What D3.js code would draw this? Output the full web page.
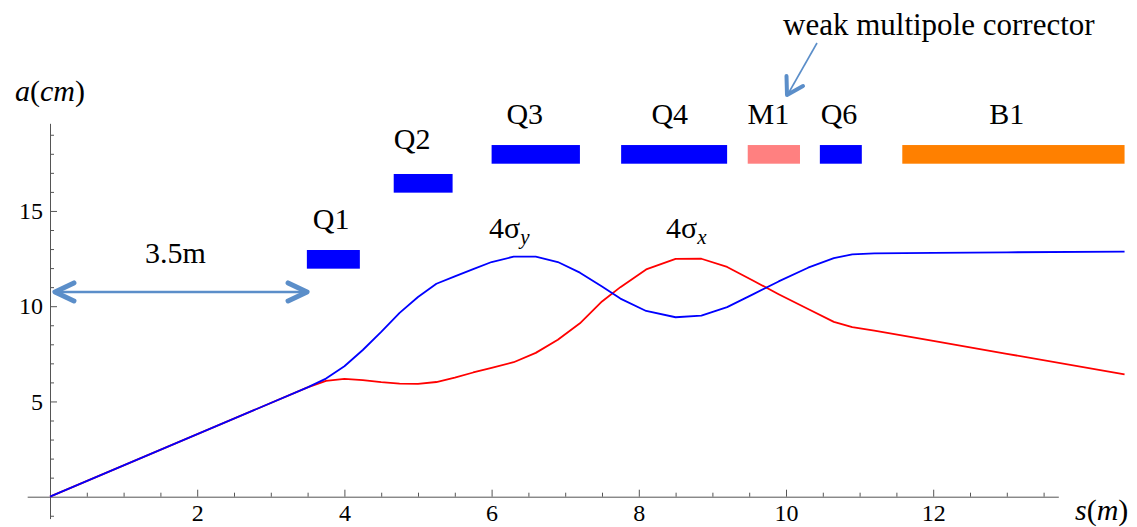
<!DOCTYPE html>
<html>
<head>
<meta charset="utf-8">
<script src="https://cdn.jsdelivr.net/npm/d3@7/dist/d3.min.js"></script>
<style>
  html, body { margin: 0; padding: 0; background: #fff; }
</style>
</head>
<body>
<svg id="chart" width="1137" height="527"></svg>
<script>
// ---- data ----
const sPos = [0, 3.5, 3.75, 4.0, 4.25, 4.5, 4.75, 5.0, 5.25, 5.5, 5.75, 6.0, 6.3, 6.6, 6.9, 7.2, 7.5, 7.75, 8.1, 8.5, 8.85, 9.2, 9.55, 9.9, 10.3, 10.65, 10.9, 11.2, 12, 13, 14.6];
const sigmaY4 = [0, 5.74, 6.2, 6.85, 7.7, 8.65, 9.65, 10.48, 11.18, 11.57, 11.95, 12.32, 12.6, 12.6, 12.32, 11.76, 11.03, 10.4, 9.75, 9.42, 9.5, 9.95, 10.62, 11.3, 12.02, 12.52, 12.72, 12.77, 12.8, 12.83, 12.86];
const sigmaX4 = [0, 5.74, 6.08, 6.18, 6.12, 6.01, 5.94, 5.92, 6.02, 6.25, 6.52, 6.76, 7.06, 7.55, 8.24, 9.1, 10.25, 11.0, 11.93, 12.48, 12.49, 12.06, 11.35, 10.63, 9.85, 9.18, 8.9, 8.72, 8.18, 7.5, 6.42];

const elemNames = ["Q1", "Q2", "Q3", "Q4", "M1", "Q6", "B1"];
const elemStart = [3.49, 4.67, 6.0, 7.76, 9.48, 10.46, 11.58];
const elemEnd   = [4.21, 5.47, 7.2, 9.2, 10.19, 11.03, 14.6];
const elemLow   = [11.97, 15.96, 17.48, 17.48, 17.48, 17.48, 17.48];
const elemHigh  = [12.95, 16.94, 18.46, 18.46, 18.46, 18.46, 18.46];
const elemColor = ["#0000ff", "#0000ff", "#0000ff", "#0000ff", "#ff8080", "#0000ff", "#ff8000"];
const elemLabelS = [3.82, 4.92, 6.45, 8.42, 9.76, 10.72, 13.0];
const elemLabelV = [14.05, 18.25, 19.56, 19.56, 19.56, 19.56, 19.56];

const xMajorTicks = [2, 4, 6, 8, 10, 12];
const xMinorTicks = [0.5, 1, 1.5, 2.5, 3, 3.5, 4.5, 5, 5.5, 6.5, 7, 7.5, 8.5, 9, 9.5, 10.5, 11, 11.5, 12.5, 13, 13.5];
const yMajorTicks = [5, 10, 15];
const yMinorTicks = [-1, 1, 2, 3, 4, 6, 7, 8, 9, 11, 12, 13, 14, 16, 17, 18, 19];

const FONT = "Liberation Serif";

// ---- scales ----
const x = d3.scaleLinear().domain([0, 14.6]).range([50, 50 + 73.6 * 14.6]);
const y = d3.scaleLinear().domain([0, 19.6]).range([496.7, 496.7 - 19.05 * 19.6]);

const svg = d3.select("#chart");
svg.append("rect").attr("width", 1137).attr("height", 527).attr("fill", "#fff");

const axisColor = "#555";

// x axis
const xAxisScale = d3.scaleLinear().domain([-0.31, 13.7]).range([x(-0.31), x(13.7)]);
const gx = svg.append("g").attr("transform", `translate(0,${y(0)})`);
gx.call(d3.axisBottom(xAxisScale).tickValues(xMajorTicks).tickSizeInner(-7).tickSizeOuter(0).tickPadding(7).tickFormat(d3.format("d")));
const gxm = svg.append("g").attr("transform", `translate(0,${y(0)})`);
gxm.call(d3.axisBottom(xAxisScale).tickValues(xMinorTicks).tickSizeInner(-4).tickSizeOuter(0).tickFormat(""));
gxm.select(".domain").remove();

// y axis
const yAxisScale = d3.scaleLinear().domain([-1.15, 19.6]).range([y(-1.15), y(19.6)]);
const gy = svg.append("g").attr("transform", `translate(${x(0)},0)`);
gy.call(d3.axisLeft(yAxisScale).tickValues(yMajorTicks).tickSizeInner(-7).tickSizeOuter(0).tickPadding(7).tickFormat(d3.format("d")));
const gym = svg.append("g").attr("transform", `translate(${x(0)},0)`);
gym.call(d3.axisLeft(yAxisScale).tickValues(yMinorTicks).tickSizeInner(-4).tickSizeOuter(0).tickFormat(""));
gym.select(".domain").remove();

svg.selectAll("g").attr("font-family", FONT);
svg.selectAll(".domain, .tick line").attr("stroke", axisColor).attr("stroke-width", 1);
svg.selectAll(".tick text").attr("fill", "#000").attr("font-size", 24).attr("font-family", FONT);

// axis labels
const aLab = svg.append("text").attr("x", 15).attr("y", 101).attr("font-family", FONT).attr("font-size", 30);
aLab.append("tspan").attr("font-style", "italic").text("a");
aLab.append("tspan").text("(");
aLab.append("tspan").attr("font-style", "italic").text("cm");
aLab.append("tspan").text(")");

const sLab = svg.append("text").attr("x", 1075).attr("y", 520).attr("font-family", FONT).attr("font-size", 30);
sLab.append("tspan").attr("font-style", "italic").text("s");
sLab.append("tspan").text("(");
sLab.append("tspan").attr("font-style", "italic").text("m");
sLab.append("tspan").text(")");

// element bars
const elems = elemNames.map((n, i) => ({ n, s0: elemStart[i], s1: elemEnd[i], lo: elemLow[i], hi: elemHigh[i], c: elemColor[i], ls: elemLabelS[i], lv: elemLabelV[i] }));
svg.append("g").selectAll("rect").data(elems).join("rect")
  .attr("x", d => x(d.s0)).attr("width", d => x(d.s1) - x(d.s0))
  .attr("y", d => y(d.hi)).attr("height", d => y(d.lo) - y(d.hi))
  .attr("fill", d => d.c);
svg.append("g").selectAll("text").data(elems).join("text")
  .attr("x", d => x(d.ls)).attr("y", d => y(d.lv))
  .attr("text-anchor", "middle").attr("font-family", FONT).attr("font-size", 30).text(d => d.n);

// curves
const line = d3.line().x(d => x(d[0])).y(d => y(d[1]));
svg.append("path").datum(sPos.map((s, i) => [s, sigmaX4[i]]))
  .attr("d", line).attr("fill", "none").attr("stroke", "#ff0000").attr("stroke-width", 1.8).attr("stroke-linejoin", "round");
svg.append("path").datum(sPos.map((s, i) => [s, sigmaY4[i]]))
  .attr("d", line).attr("fill", "none").attr("stroke", "#0000ff").attr("stroke-width", 1.8).attr("stroke-linejoin", "round");

// curve labels
function sigmaLabel(px, py, sub) {
  const t = svg.append("text").attr("x", px).attr("y", py).attr("font-family", FONT).attr("font-size", 30);
  t.append("tspan").text("4σ");
  t.append("tspan").attr("dy", 6).attr("font-size", 21).attr("font-style", "italic").text(sub);
}
sigmaLabel(489, 238, "y");
sigmaLabel(666, 238, "x");

// 3.5m annotation arrow
const arrowColor = "#5b8ec9";
const ay = y(10.75);
const ax0 = x(0.04), ax1 = x(3.52);
svg.append("line").attr("x1", ax0 + 3).attr("x2", ax1 - 3).attr("y1", ay).attr("y2", ay)
  .attr("stroke", arrowColor).attr("stroke-width", 2.5);
svg.append("path").attr("d", `M${ax0 + 21},${ay - 9} L${ax0 + 2},${ay} L${ax0 + 21},${ay + 9}`)
  .attr("fill", "none").attr("stroke", arrowColor).attr("stroke-width", 5).attr("stroke-linecap", "round").attr("stroke-linejoin", "round");
svg.append("path").attr("d", `M${ax1 - 21},${ay - 9} L${ax1 - 2},${ay} L${ax1 - 21},${ay + 9}`)
  .attr("fill", "none").attr("stroke", arrowColor).attr("stroke-width", 5).attr("stroke-linecap", "round").attr("stroke-linejoin", "round");
svg.append("text").attr("x", x(1.705)).attr("y", y(12.28)).attr("text-anchor", "middle").attr("font-family", FONT).attr("font-size", 30).text("3.5m");

// weak multipole corrector annotation
svg.append("text").attr("x", 783).attr("y", 35).attr("font-family", FONT).attr("font-size", 31).text("weak multipole corrector");
svg.append("line").attr("x1", 817).attr("y1", 43).attr("x2", 788).attr("y2", 94)
  .attr("stroke", arrowColor).attr("stroke-width", 1.6);
svg.append("path").attr("d", "M786.5,76 L787,95 L803,86")
  .attr("fill", "none").attr("stroke", arrowColor).attr("stroke-width", 4).attr("stroke-linecap", "round").attr("stroke-linejoin", "round");
</script>
</body>
</html>
